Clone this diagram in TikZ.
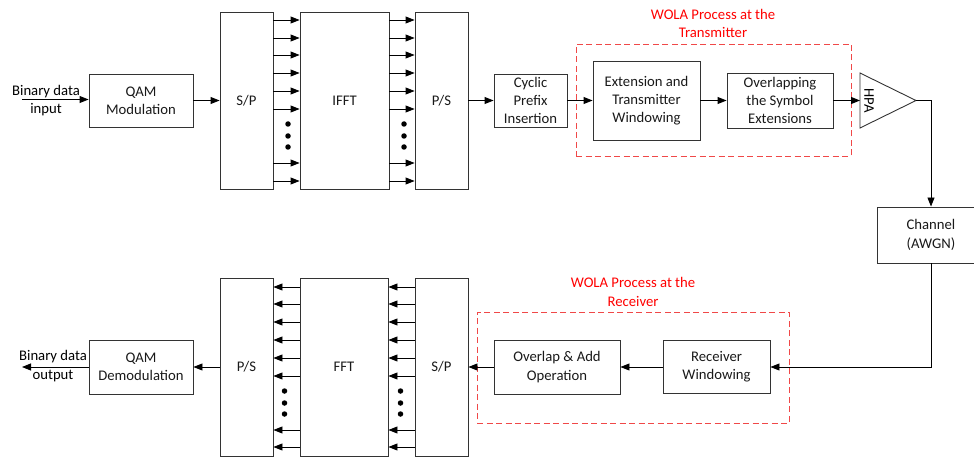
\documentclass[tikz,border=0pt]{standalone}
\usepackage{fontspec}
\setmainfont{Carlito}
\usetikzlibrary{arrows.meta}
\newcommand\myfs{\fontsize{14.7}{18.3}\selectfont}
\definecolor{lc}{HTML}{333333}
\definecolor{wolared}{HTML}{FF0000}
\definecolor{dashred}{HTML}{F04848}
\begin{document}
\begin{tikzpicture}[x=1pt,y=-1pt,
  box/.style={draw=lc,line width=0.9pt,inner sep=0pt,align=center,font=\myfs,text=black!90},
  arr/.style={-{Triangle[length=9pt,width=7pt]},line width=0.9pt,draw=black},
  wola/.style={draw=dashred,line width=0.9pt,dash pattern=on 6pt off 3.5pt,inner sep=0pt},
  wtitle/.style={font=\myfs,text=wolared,align=center},
  lbl/.style={font=\myfs,align=center,inner sep=0pt},
  dot/.style={circle,fill=black,inner sep=0pt,minimum size=5.5pt}]
\useasboundingbox (0,0) rectangle (974,457);
\clip (0,0) rectangle (974,457);

% ---------- top row ----------
\node[lbl] (inlbl) at (46,100.5) {Binary data\\input};
\coordinate (inpt) at (22,99.5);
\node[box,minimum width=104pt,minimum height=53pt] (qam) at (141,100.5) {QAM\\Modulation};
\node[box,minimum width=53pt,minimum height=177pt] (sp1) at (246.5,100.5) {S/P};
\node[box,minimum width=89pt,minimum height=177pt] (ifft) at (344.5,100.5) {IFFT};
\node[box,minimum width=53pt,minimum height=177pt] (ps1) at (441.5,100.5) {P/S};
\node[box,minimum width=73pt,minimum height=53pt] (cp) at (530.5,100.5) {Cyclic\\Prefix\\Insertion};
\node[wola,minimum width=275pt,minimum height=112pt] (w1) at (713.5,100) {};
\node[wtitle] (t1) at (713,23.5) {WOLA Process at the\\Transmitter};
\node[box,minimum width=107pt,minimum height=79pt] (ext) at (646.5,100.5) {Extension and\\Transmitter\\Windowing};
\node[box,minimum width=106pt,minimum height=55pt] (ovl) at (780,100.5) {Overlapping\\the Symbol\\Extensions};
\coordinate (hpain) at (860,100.5);
\coordinate (hpaout) at (916,100.5);
\coordinate (hpatop) at (860,73);
\coordinate (hpabot) at (860,128);
\draw[draw=lc,line width=0.9pt] (hpatop) -- (hpaout) -- (hpabot) -- cycle;
\node[lbl,rotate=-90] (hpa) at (869,100.5) {HPA};
\node[box,minimum width=108pt,minimum height=56pt] (chan) at (931,235) {Channel\\(AWGN)};

\draw[arr] (inpt) -- (inpt -| qam.west);
\draw[arr] (qam.east) -- (sp1.west);
\foreach \y in {20,38,55,73,91,109,163,181}{
  \draw[arr] (sp1.east |- 0,\y) -- (ifft.west |- 0,\y);
  \draw[arr] (ifft.east |- 0,\y) -- (ps1.west |- 0,\y);
}
\foreach \y in {124,136,147}{
  \node[dot] at (288,\y) {};
  \node[dot] at (404,\y) {};
}
\draw[arr] (ps1.east) -- (cp.west);
\draw[arr] (cp.east) -- (ext.west);
\draw[arr] (ext.east) -- (ovl.west);
\draw[arr] (ovl.east) -- (hpain);
\draw[arr] (hpaout) -| (chan.north);

% ---------- bottom row ----------
\node[wola,minimum width=312pt,minimum height=111pt] (w2) at (633,367.5) {};
\node[wtitle] (t2) at (633,292) {WOLA Process at the\\Receiver};
\node[box,minimum width=107pt,minimum height=53pt] (rw) at (716.5,367) {Receiver\\Windowing};
\node[box,minimum width=126pt,minimum height=54pt] (oa) at (557,367) {Overlap \& Add\\Operation};
\node[box,minimum width=53pt,minimum height=178pt] (sp2) at (441.5,367) {S/P};
\node[box,minimum width=88pt,minimum height=178pt] (fft) at (344,367) {FFT};
\node[box,minimum width=53pt,minimum height=178pt] (ps2) at (246.5,367) {P/S};
\node[box,minimum width=104pt,minimum height=54pt] (qamd) at (141,367) {QAM\\Demodulation};
\node[lbl] (outlbl) at (53,366) {Binary data\\output};
\coordinate (outpt) at (22,367);

\draw[arr] (chan.south) |- (rw.east);
\draw[arr] (rw.west) -- (oa.east);
\draw[arr] (oa.west) -- (sp2.east);
\foreach \y in {287,304,322,340,358,376,430,447}{
  \draw[arr] (sp2.west |- 0,\y) -- (fft.east |- 0,\y);
  \draw[arr] (fft.west |- 0,\y) -- (ps2.east |- 0,\y);
}
\foreach \y in {391,403,414}{
  \node[dot] at (284.5,\y) {};
  \node[dot] at (400.5,\y) {};
}
\draw[arr] (ps2.west) -- (qamd.east);
\draw[arr] (qamd.west) -- (outpt);
\end{tikzpicture}
\end{document}
